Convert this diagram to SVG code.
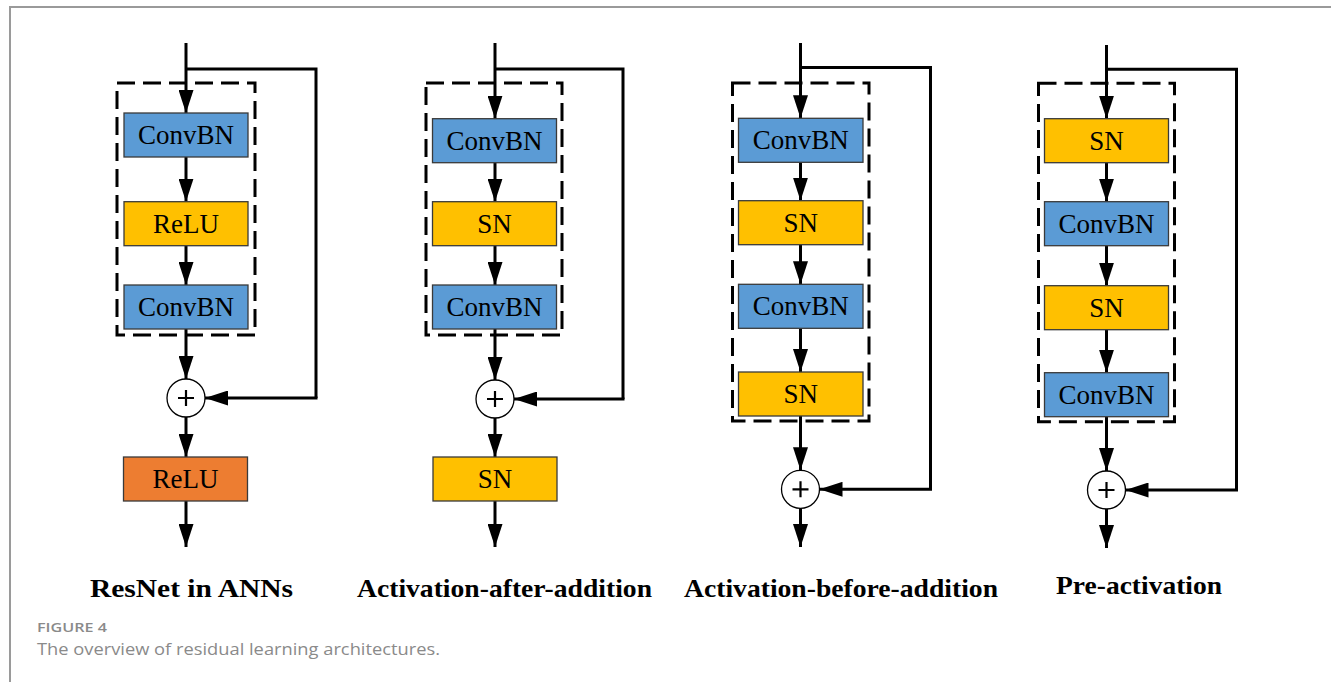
<svg xmlns="http://www.w3.org/2000/svg" width="1331" height="682" viewBox="0 0 1331 682">
<style>
.blue{fill:#5B9BD5;stroke:#3a3a3a;stroke-width:1.3}
.yel{fill:#FFC000;stroke:#3a3a3a;stroke-width:1.3}
.org{fill:#ED7D31;stroke:#3a3a3a;stroke-width:1.3}
.dash{fill:none;stroke:#000;stroke-width:3;stroke-dasharray:18 8}
.ln{fill:none;stroke:#000;stroke-width:3}
.arr{fill:none;stroke:#000;stroke-width:3;marker-end:url(#ah)}
.lbl{font-family:"Liberation Serif","Times New Roman",serif;font-size:27px;fill:#000;text-anchor:middle}
.ttl{font-family:"Liberation Serif","Times New Roman",serif;font-size:26px;font-weight:bold;fill:#000}
.sum{fill:#fff;stroke:#000;stroke-width:1.3}
.plus{stroke:#000;stroke-width:2.2;fill:none}
.cap{font-family:"Open Sans","Noto Sans",sans-serif;fill:#8a8a8a}
</style>
<defs>
<marker id="ah" markerUnits="userSpaceOnUse" markerWidth="24" markerHeight="15" refX="23" refY="7.5" orient="auto">
<path d="M0,0 L23,7.5 L0,15 z" fill="#000"/>
</marker>
</defs>
<rect x="0" y="0" width="1331" height="682" fill="#fff"/>
<path d="M10,682 L10,7 L1331,7" fill="none" stroke="#9a9a9a" stroke-width="2"/>

<g id="connectors">
<path class="arr" d="M186,43 L186,113"/>
<path class="ln" d="M186,69 L316,69 L316,398"/>
<path class="arr" d="M317.5,398 L205,398"/>
<path class="arr" d="M186,157 L186,201.7"/>
<path class="arr" d="M186,245.7 L186,285"/>
<path class="arr" d="M186,329 L186,379"/>
<path class="arr" d="M186,417 L186,457"/>
<path class="arr" d="M186,501 L186,547"/>
<path class="arr" d="M495,43 L495,118.7"/>
<path class="ln" d="M495,69 L623,69 L623,399"/>
<path class="arr" d="M624.5,399 L514,399"/>
<path class="arr" d="M495,162.7 L495,201.7"/>
<path class="arr" d="M495,245.7 L495,285"/>
<path class="arr" d="M495,329 L495,380"/>
<path class="arr" d="M495,418 L495,457"/>
<path class="arr" d="M495,501 L495,547"/>
<path class="arr" d="M800.5,43 L800.5,118.3"/>
<path class="ln" d="M800.5,67.5 L930.5,67.5 L930.5,489.3"/>
<path class="arr" d="M932,489.3 L819.5,489.3"/>
<path class="arr" d="M800.5,162.3 L800.5,200.7"/>
<path class="arr" d="M800.5,244.7 L800.5,284.3"/>
<path class="arr" d="M800.5,328.3 L800.5,372"/>
<path class="arr" d="M800.5,416 L800.5,470.3"/>
<path class="arr" d="M800.5,508.3 L800.5,547"/>
<path class="arr" d="M1106.5,45 L1106.5,118.7"/>
<path class="ln" d="M1106.5,69.3 L1236.5,69.3 L1236.5,490"/>
<path class="arr" d="M1238,490 L1125.5,490"/>
<path class="arr" d="M1106.5,162.7 L1106.5,201.7"/>
<path class="arr" d="M1106.5,245.7 L1106.5,285.7"/>
<path class="arr" d="M1106.5,329.7 L1106.5,372.7"/>
<path class="arr" d="M1106.5,416.7 L1106.5,471"/>
<path class="arr" d="M1106.5,509 L1106.5,548"/>
</g>

<g id="col1">
<rect class="dash" x="117" y="83" width="138" height="252"/>
<g id="c1-convbn1"><rect class="blue" x="124" y="113" width="124" height="44"/><text class="lbl" x="186" y="144">ConvBN</text></g>
<g id="c1-relu"><rect class="yel" x="124" y="201.7" width="124" height="44"/><text class="lbl" x="186" y="232.7">ReLU</text></g>
<g id="c1-convbn2"><rect class="blue" x="124" y="285" width="124" height="44"/><text class="lbl" x="186" y="316">ConvBN</text></g>
<g id="c1-sum"><circle class="sum" cx="186" cy="398" r="19"/><path class="plus" d="M178,398 H194 M186,390 V406"/></g>
<g id="c1-relu-out"><rect class="org" x="123.5" y="457" width="124" height="44"/><text class="lbl" x="185.5" y="488">ReLU</text></g>
<text class="ttl" x="90" y="597" textLength="203" lengthAdjust="spacingAndGlyphs">ResNet in ANNs</text>
</g>

<g id="col2">
<rect class="dash" x="426" y="83" width="136" height="252"/>
<g id="c2-convbn1"><rect class="blue" x="432.5" y="118.7" width="124" height="44"/><text class="lbl" x="494.5" y="149.7">ConvBN</text></g>
<g id="c2-sn1"><rect class="yel" x="432.5" y="201.7" width="124" height="44"/><text class="lbl" x="494.5" y="232.7">SN</text></g>
<g id="c2-convbn2"><rect class="blue" x="432.5" y="285" width="124" height="44"/><text class="lbl" x="494.5" y="316">ConvBN</text></g>
<g id="c2-sum"><circle class="sum" cx="495" cy="399" r="19"/><path class="plus" d="M487,399 H503 M495,391 V407"/></g>
<g id="c2-sn-out"><rect class="yel" x="433" y="457" width="124" height="44"/><text class="lbl" x="495" y="488">SN</text></g>
<text class="ttl" x="357" y="597" textLength="295" lengthAdjust="spacingAndGlyphs">Activation-after-addition</text>
</g>

<g id="col3">
<rect class="dash" x="732.5" y="83" width="136.5" height="338"/>
<g id="c3-convbn1"><rect class="blue" x="738.5" y="118.3" width="124.5" height="44"/><text class="lbl" x="800.8" y="149.3">ConvBN</text></g>
<g id="c3-sn1"><rect class="yel" x="738.5" y="200.7" width="124.5" height="44"/><text class="lbl" x="800.8" y="231.7">SN</text></g>
<g id="c3-convbn2"><rect class="blue" x="738.5" y="284.3" width="124.5" height="44"/><text class="lbl" x="800.8" y="315.3">ConvBN</text></g>
<g id="c3-sn2"><rect class="yel" x="738.5" y="372" width="124.5" height="44"/><text class="lbl" x="800.8" y="403">SN</text></g>
<g id="c3-sum"><circle class="sum" cx="800.5" cy="489.3" r="19"/><path class="plus" d="M792.5,489.3 H808.5 M800.5,481.3 V497.3"/></g>
<text class="ttl" x="684" y="597" textLength="314" lengthAdjust="spacingAndGlyphs">Activation-before-addition</text>
</g>

<g id="col4">
<rect class="dash" x="1038.5" y="83.3" width="136" height="338.4"/>
<g id="c4-sn1"><rect class="yel" x="1044.5" y="118.7" width="124" height="44"/><text class="lbl" x="1106.5" y="149.7">SN</text></g>
<g id="c4-convbn1"><rect class="blue" x="1044.5" y="201.7" width="124" height="44"/><text class="lbl" x="1106.5" y="232.7">ConvBN</text></g>
<g id="c4-sn2"><rect class="yel" x="1044.5" y="285.7" width="124" height="44"/><text class="lbl" x="1106.5" y="316.7">SN</text></g>
<g id="c4-convbn2"><rect class="blue" x="1044.5" y="372.7" width="124" height="44"/><text class="lbl" x="1106.5" y="403.7">ConvBN</text></g>
<g id="c4-sum"><circle class="sum" cx="1106.5" cy="490" r="19"/><path class="plus" d="M1098.5,490 H1114.5 M1106.5,482 V498"/></g>
<text class="ttl" x="1056" y="594" textLength="166" lengthAdjust="spacingAndGlyphs">Pre-activation</text>
</g>

<g id="caption">
<text class="cap" x="37" y="632" font-size="13" font-weight="600" textLength="70" lengthAdjust="spacingAndGlyphs">FIGURE 4</text>
<text class="cap" x="37" y="655" font-size="17" textLength="403" lengthAdjust="spacingAndGlyphs">The overview of residual learning architectures.</text>
</g>
</svg>
